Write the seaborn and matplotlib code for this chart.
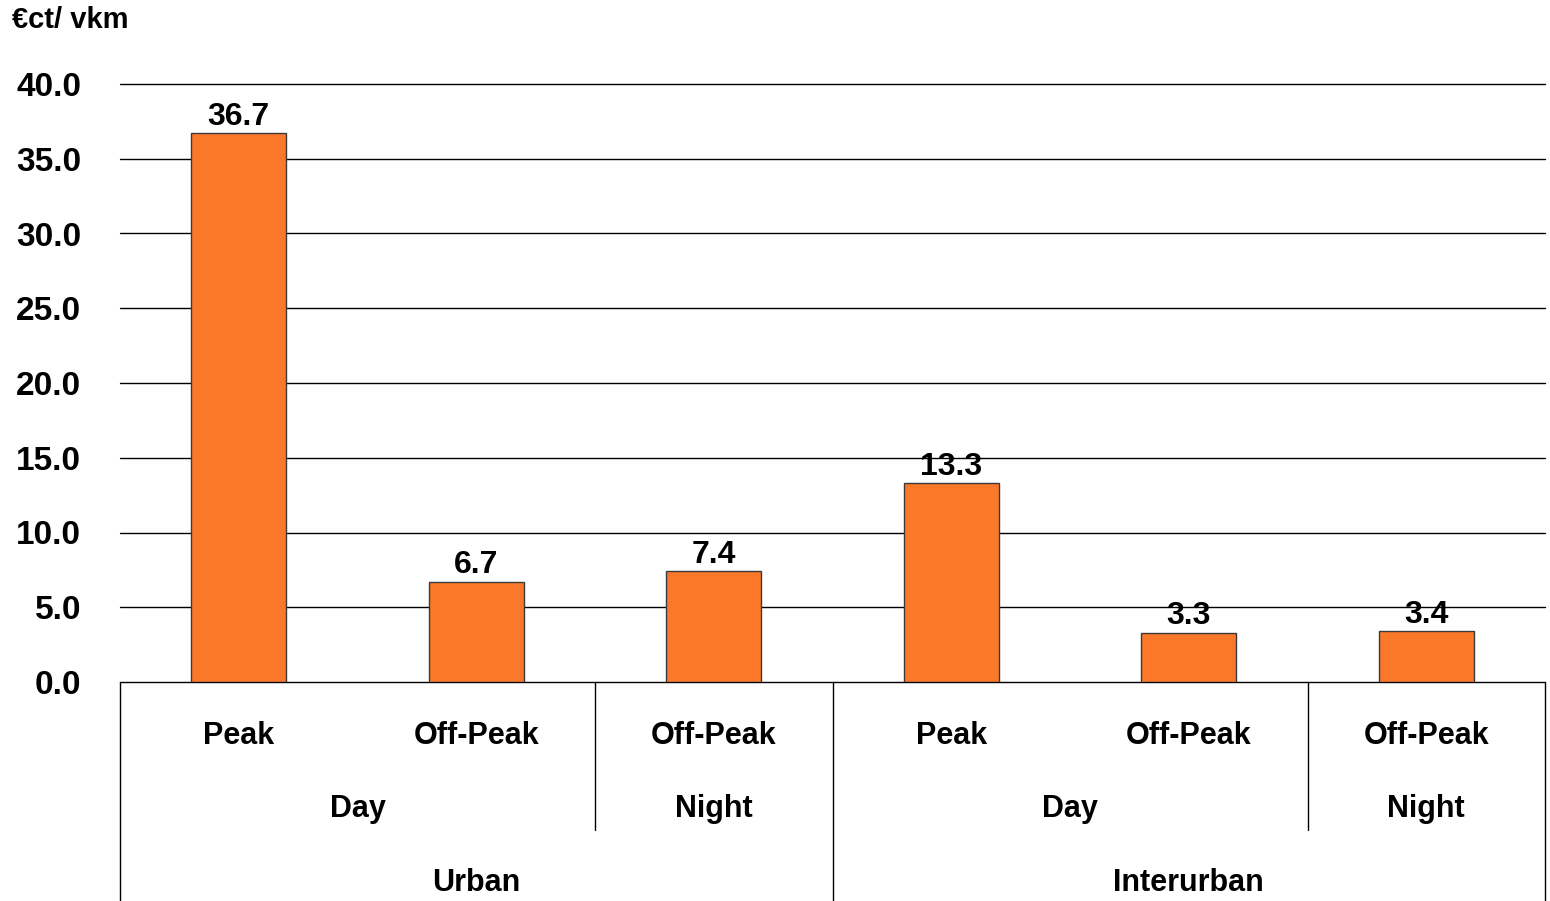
import matplotlib
matplotlib.use("Agg")
import matplotlib.pyplot as plt
import seaborn as sns
import pandas as pd

# chart data
zones = ["Urban", "Urban", "Urban", "Interurban", "Interurban", "Interurban"]
periods = ["Day", "Day", "Night", "Day", "Day", "Night"]
times = ["Peak", "Off-Peak", "Off-Peak", "Peak", "Off-Peak", "Off-Peak"]
values = [36.7, 6.7, 7.4, 13.3, 3.3, 3.4]
y_ticks = [0, 5, 10, 15, 20, 25, 30, 35, 40]
unit_label = "€ct/ vkm"

df = pd.DataFrame({"zone": zones, "period": periods, "time": times, "value": values})
df["slot"] = [str(i) for i in range(len(df))]

sns.set_style("white")
plt.rcParams["font.family"] = ["Liberation Sans", "DejaVu Sans"]
plt.rcParams["font.weight"] = "bold"
plt.rcParams["text.color"] = "black"
plt.rcParams["ytick.color"] = "black"

fig = plt.figure(figsize=(15.5, 9.01), dpi=100)
ax = fig.add_axes([120 / 1550, (901 - 682) / 901, 1425 / 1550, 598 / 901])

sns.barplot(data=df, x="slot", y="value", color="#FB772A", width=0.4,
            edgecolor="#3a3a3a", linewidth=1, saturation=1, ax=ax, zorder=3)

ax.set_xlim(-0.5, len(df) - 0.5)
ax.set_ylim(0, 40)
for t in y_ticks:
    ax.axhline(t, color="black", lw=1, zorder=1, clip_on=False)
ax.set_yticks(y_ticks)
ax.set_yticklabels([f"{t:.1f}" for t in y_ticks], fontsize=24, fontweight="bold", color="black")
ax.tick_params(axis="y", length=0, pad=28)
ax.set_xticks([])
ax.set_xlabel("")
ax.set_ylabel("")
for s in ax.spines.values():
    s.set_visible(False)

# value labels
for i, v in enumerate(values):
    ax.text(i, v + 0.1, f"{v:.1f}", ha="center", va="bottom", fontsize=23, fontweight="bold")

# category table below the axis
tr = ax.get_xaxis_transform()
row_y = [-0.09, -0.212, -0.336]
for i, t in enumerate(times):
    ax.text(i, row_y[0], t, transform=tr, ha="center", va="center", fontsize=22, fontweight="bold")

# period groups (within zone)
keys = list(zip(zones, periods))
start = 0
for i in range(1, len(keys) + 1):
    if i == len(keys) or keys[i] != keys[start]:
        ax.text((start + i - 1) / 2, row_y[1], keys[start][1], transform=tr,
                ha="center", va="center", fontsize=22, fontweight="bold")
        if i < len(keys) and zones[i] == zones[start]:
            ax.plot([i - 0.5, i - 0.5], [0, -0.2475], transform=tr, color="black", lw=1, clip_on=False)
        start = i

# zone groups
start = 0
ax.plot([-0.5, -0.5], [0, -0.4], transform=tr, color="black", lw=1, clip_on=False)
for i in range(1, len(zones) + 1):
    if i == len(zones) or zones[i] != zones[start]:
        ax.text((start + i - 1) / 2, row_y[2], zones[start], transform=tr,
                ha="center", va="center", fontsize=22, fontweight="bold")
        ax.plot([i - 0.5, i - 0.5], [0, -0.4], transform=tr, color="black", lw=1, clip_on=False)
        start = i

fig.text(12 / 1550, 1 - 20 / 901, unit_label, ha="left", va="center", fontsize=21, fontweight="bold")

fig.savefig("out.png", dpi=100)
